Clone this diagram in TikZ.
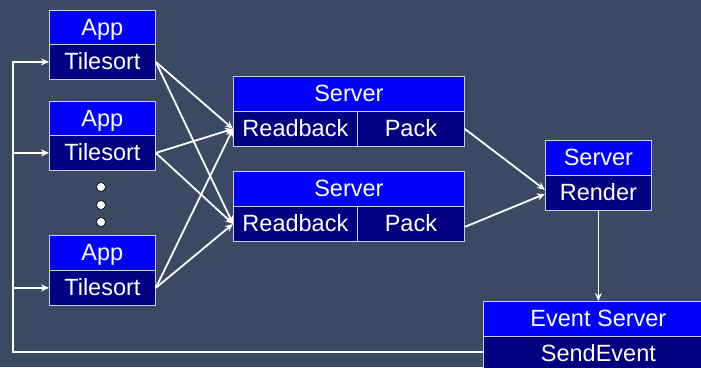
\documentclass[tikz,border=0pt]{standalone}
\usepackage{fontspec}
\setmainfont{Liberation Sans}
\usetikzlibrary{arrows.meta}
\definecolor{bg}{RGB}{59,73,99}
\definecolor{topblue}{RGB}{0,0,255}
\definecolor{botblue}{RGB}{0,0,128}
\definecolor{edge}{RGB}{205,205,225}
\tikzset{
  hdr/.style={fill=topblue, draw=edge, line width=0.8pt, text=white, inner sep=0pt,
    minimum height=35pt, text height=17.5pt, text depth=2.5pt,
    anchor=north west, font=\fontsize{23.5}{28}\selectfont},
  sub/.style={hdr, fill=botblue},
  conn/.style={draw=white, line width=1.8pt},
  arr/.style={conn, -{Stealth[length=8pt,width=7pt]}},
  dot/.style={circle, fill=white, draw=black, line width=0.6pt, minimum size=9pt, inner sep=0pt}
}
\begin{document}
\begin{tikzpicture}[x=1pt,y=-1pt]
\fill[bg] (0,0) rectangle (701,367);
\useasboundingbox (0,0) rectangle (701,367);
% App boxes
\node[hdr, minimum width=106pt] (a1) at (49,10) {App};
\node[sub, minimum width=106pt] (t1) at (49,44) {Tilesort};
\node[hdr, minimum width=106pt] (a2) at (49,101) {App};
\node[sub, minimum width=106pt] (t2) at (49,135) {Tilesort};
\node[hdr, minimum width=106pt] (a3) at (49,235) {App};
\node[sub, minimum width=106pt] (t3) at (49,270) {Tilesort};
% dots
\node[dot] (d1) at (101,187) {};
\node[dot] (d2) at (101,205) {};
\node[dot] (d3) at (101,222) {};
% Servers
\node[hdr, minimum width=231pt] (s1) at (233,76) {Server};
\node[sub, minimum width=124pt] (rb1) at (233,111) {Readback};
\node[sub, minimum width=107pt] (p1) at (357,111) {Pack};
\node[hdr, minimum width=231pt] (s2) at (233,171) {Server};
\node[sub, minimum width=124pt] (rb2) at (233,206) {Readback};
\node[sub, minimum width=107pt] (p2) at (357,206) {Pack};
% Render server
\node[hdr, minimum width=106pt] (rs) at (545,140) {Server};
\node[sub, minimum width=106pt] (r2) at (545,175) {Render};
% Event server
\node[hdr, minimum width=230pt] (ev1) at (483,301) {Event Server};
\node[sub, minimum width=230pt] (ev2) at (483,336) {SendEvent};
% Tilesort -> Readback
\foreach \t in {t1,t2,t3}{
  \draw[arr] (\t.east) -- (rb1.west);
  \draw[arr] (\t.east) -- (rb2.west);
}
% Pack -> Render
\draw[arr] (p1.east) -- ([yshift=3pt]r2.west);
\draw[arr] ([yshift=-3pt]p2.east) -- ([yshift=-1pt]r2.west);
% Render -> Event Server
\draw[arr] (r2.south) -- (ev1.north);
% feedback
\coordinate (fb) at (13,352);
\draw[arr] (ev2.west |- fb) -- (fb) |- (t1.west);
\draw[arr] (fb |- t2.west) -- (t2.west);
\draw[arr] (fb |- t3.west) -- (t3.west);
\end{tikzpicture}
\end{document}
